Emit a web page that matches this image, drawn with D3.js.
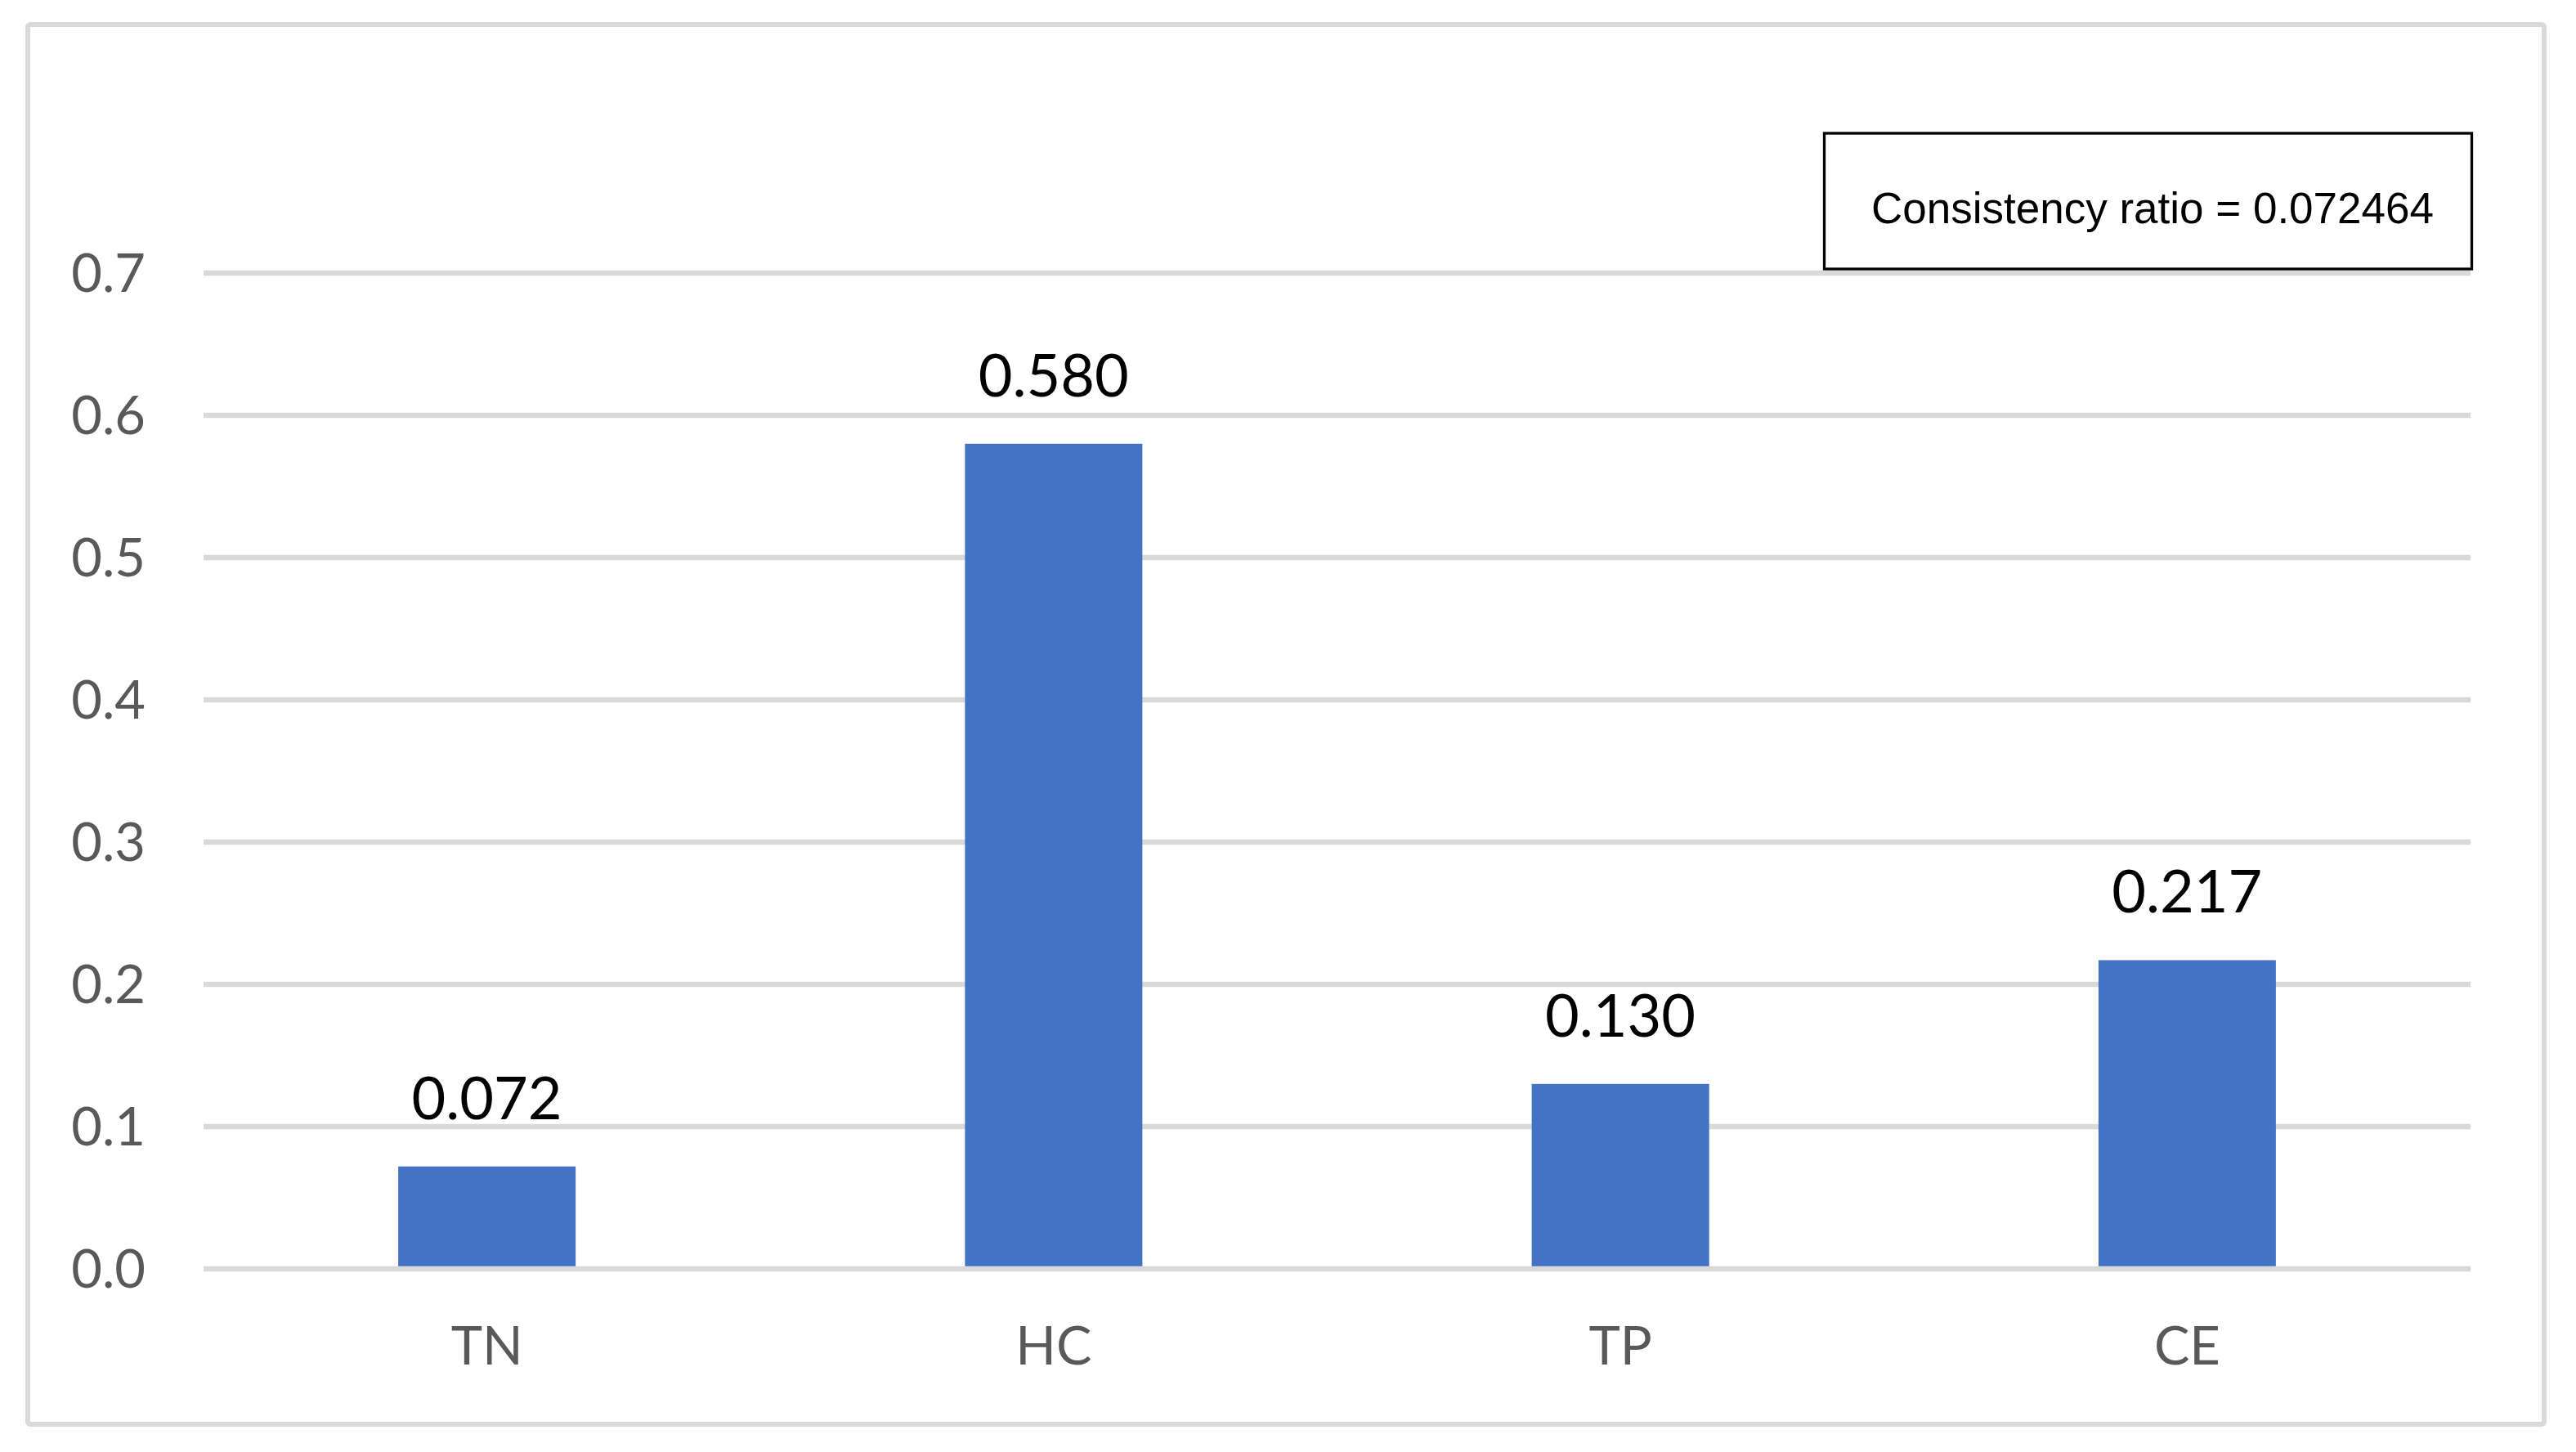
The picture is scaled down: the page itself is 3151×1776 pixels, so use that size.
<!DOCTYPE html>
<html>
<head>
<meta charset="utf-8">
<script src="https://cdn.jsdelivr.net/npm/d3@7"></script>
<style>
  body { margin: 0; background: #fff; }
  svg { display: block; }
</style>
</head>
<body>
<div id="chart"></div>
<script>
// chart data
const categories = ["TN", "HC", "TP", "CE"];
const weights = [0.072, 0.580, 0.130, 0.217];
const yTicks = [0, 0.1, 0.2, 0.3, 0.4, 0.5, 0.6, 0.7];
const noteText = "Consistency ratio = 0.072464";

const W = 3151, H = 1776;
const plot = { left: 249, right: 3022, top: 334, bottom: 1552 };

const svg = d3.select("#chart")
  .append("svg")
  .attr("width", W)
  .attr("height", H);

svg.append("rect")
  .attr("width", W)
  .attr("height", H)
  .attr("fill", "#fff");

// outer chart border
svg.append("rect")
  .attr("x", 34)
  .attr("y", 30)
  .attr("width", 3112 - 34)
  .attr("height", 1742 - 30)
  .attr("rx", 3)
  .attr("fill", "none")
  .attr("stroke", "#d9d9d9")
  .attr("stroke-width", 6);

const gap = 0.687;
const x = d3.scaleBand()
  .domain(categories)
  .range([plot.left, plot.right])
  .paddingInner(gap)
  .paddingOuter(gap / 2);

const y = d3.scaleLinear()
  .domain([0, 0.7])
  .range([plot.bottom, plot.top]);

// gridlines (except baseline, drawn over bars)
svg.append("g")
  .selectAll("line")
  .data(yTicks.filter(d => d > 0))
  .join("line")
  .attr("x1", plot.left)
  .attr("x2", plot.right)
  .attr("y1", d => y(d))
  .attr("y2", d => y(d))
  .attr("stroke", "#d9d9d9")
  .attr("stroke-width", 6.5);

// y axis labels
const yAxis = d3.axisLeft(y)
  .tickValues(yTicks)
  .tickFormat(d3.format(".1f"))
  .tickSize(0)
  .tickPadding(71);

const yG = svg.append("g")
  .attr("transform", `translate(${plot.left},0)`)
  .call(yAxis);
yG.select(".domain").remove();
yG.selectAll("text")
  .attr("font-family", "Lato, 'Open Sans', sans-serif")
  .attr("font-size", 65)
  .attr("fill", "#595959")
  .attr("dy", "0.35em");

// bars
svg.append("g")
  .selectAll("rect")
  .data(weights)
  .join("rect")
  .attr("x", (d, i) => x(categories[i]))
  .attr("y", d => y(d))
  .attr("width", x.bandwidth())
  .attr("height", d => y(0) - y(d))
  .attr("fill", "#4472c4");

// baseline
svg.append("line")
  .attr("x1", plot.left)
  .attr("x2", plot.right)
  .attr("y1", y(0))
  .attr("y2", y(0))
  .attr("stroke", "#d9d9d9")
  .attr("stroke-width", 6.5);

// x axis labels
const xAxis = d3.axisBottom(x).tickSize(0).tickPadding(0);
const xG = svg.append("g")
  .attr("transform", `translate(0,${y(0)})`)
  .call(xAxis);
xG.select(".domain").remove();
xG.selectAll("text")
  .attr("font-family", "Lato, 'Open Sans', sans-serif")
  .attr("font-size", 65)
  .attr("fill", "#595959")
  .attr("dy", null)
  .attr("y", 117);

// value labels
svg.append("g")
  .selectAll("text")
  .data(weights)
  .join("text")
  .attr("x", (d, i) => x(categories[i]) + x.bandwidth() / 2)
  .attr("y", d => y(d) - 58)
  .attr("text-anchor", "middle")
  .attr("font-family", "Lato, 'Open Sans', sans-serif")
  .attr("font-size", 72)
  .attr("fill", "#000")
  .text(d => d3.format(".3f")(d));

// consistency ratio note
svg.append("rect")
  .attr("x", 2231.5)
  .attr("y", 163)
  .attr("width", 3023.5 - 2231.5)
  .attr("height", 329 - 163)
  .attr("fill", "#fff")
  .attr("stroke", "#000")
  .attr("stroke-width", 3.3);

svg.append("text")
  .attr("x", 2633)
  .attr("y", 273)
  .attr("text-anchor", "middle")
  .attr("font-family", "'Liberation Sans', Arial, sans-serif")
  .attr("font-size", 53)
  .attr("fill", "#000")
  .text(noteText);
</script>
</body>
</html>
